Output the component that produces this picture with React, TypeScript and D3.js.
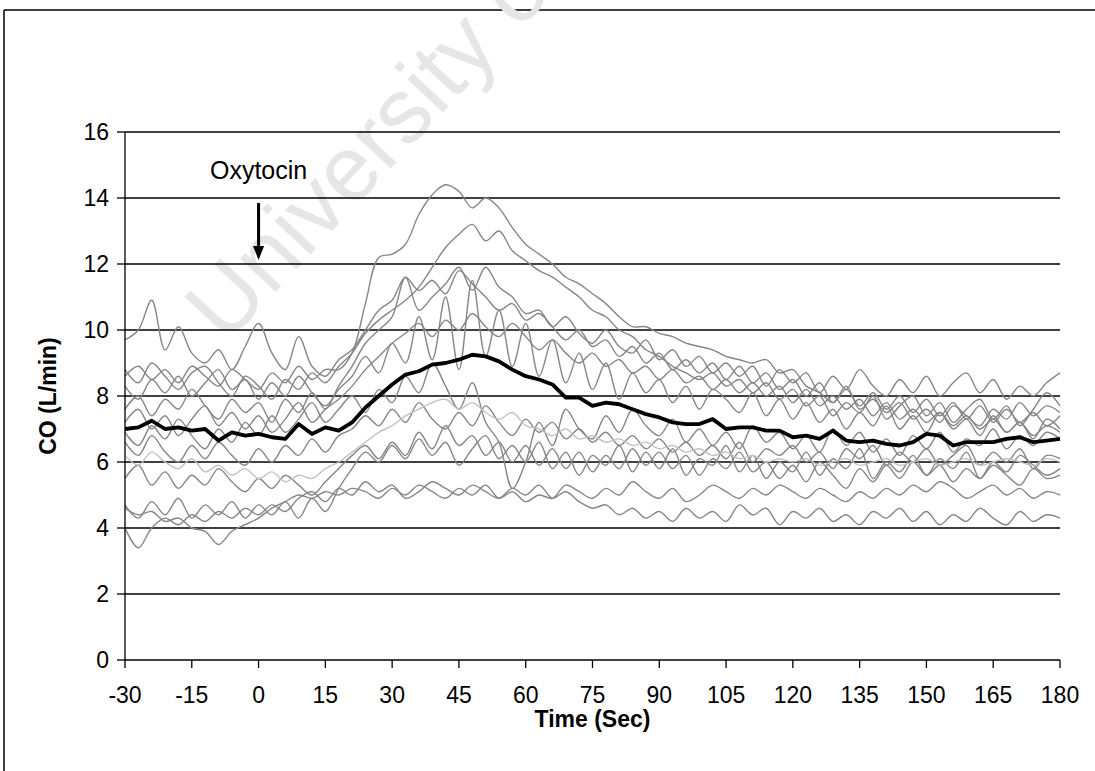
import React from 'react';
import * as d3 from 'd3';

// sample times (seconds), one value every 3 s from -30 to 180
const times: number[] = d3.range(-30, 181, 3);

const xTicks = [-30, -15, 0, 15, 30, 45, 60, 75, 90, 105, 120, 135, 150, 165, 180];
const yTicks = [0, 2, 4, 6, 8, 10, 12, 14, 16];

// individual subjects (grey)
const s1 = [8.6, 8.9, 8.5, 8.8, 8.4, 8.9, 8.6, 8.3, 8.8, 8.5,
  8.2, 8.7, 8.4, 8.9, 8.5, 8.8, 8.8, 9.3, 10.8, 12.2,
  12.3, 12.6, 13.5, 14.1, 14.4, 14.2, 13.7, 14.0, 13.7, 13.1,
  12.6, 12.3, 12.0, 11.6, 11.4, 11.1, 10.8, 10.4, 10.1, 10.1,
  9.9, 9.8, 9.6, 9.5, 9.4, 9.2, 9.1, 9.0, 9.1, 8.7,
  8.8, 8.3, 8.1, 7.8, 8.3, 7.6, 7.9, 7.5, 7.8, 7.3,
  7.6, 7.2, 7.7, 7.4, 7.1, 7.6, 7.3, 7.8, 7.4, 7.7, 7.5];
const s2 = [8.8, 8.4, 9.0, 8.6, 8.2, 8.7, 8.9, 8.4, 8.0, 8.6,
  8.3, 7.9, 8.5, 8.2, 8.7, 8.4, 8.9, 9.3, 9.9, 10.3,
  10.6, 10.9, 11.3, 11.9, 12.5, 12.9, 13.2, 12.7, 13.0, 12.4,
  12.1, 11.8, 11.6, 11.3, 11.0, 10.6, 10.4, 10.0, 9.8, 9.4,
  9.2, 8.9, 8.7, 8.5, 8.7, 8.3, 8.5, 8.1, 8.4, 7.9,
  8.2, 7.7, 8.0, 7.4, 7.8, 7.5, 8.0, 7.3, 7.7, 8.0,
  7.4, 7.8, 7.2, 7.6, 7.9, 7.3, 7.7, 7.1, 7.6, 8.1, 7.7];
const s3 = [7.6, 8.0, 7.4, 7.9, 7.6, 8.2, 7.7, 7.3, 7.9, 7.5,
  7.8, 7.2, 7.9, 7.5, 8.1, 7.6, 8.3, 8.9, 9.6, 10.0,
  10.4, 11.6, 10.6, 11.0, 11.4, 11.9, 11.2, 11.9, 11.3, 11.0,
  10.5, 10.6, 10.1, 10.4, 9.9, 9.6, 10.0, 9.5, 9.3, 9.7,
  9.1, 9.4, 8.9, 9.2, 8.7, 9.0, 8.6, 8.9, 8.3, 8.8,
  8.4, 8.7, 8.1, 8.6, 8.2, 8.8, 8.3, 8.0, 8.5, 8.1,
  8.6, 8.0, 8.4, 8.7, 8.1, 8.5, 7.9, 8.3, 8.0, 8.4, 8.7];
const s4 = [9.7, 10.0, 10.9, 9.4, 10.1, 9.3, 9.0, 9.4, 8.8, 9.5,
  10.2, 9.3, 8.8, 9.8, 8.9, 8.6, 9.1, 9.4, 10.0, 10.6,
  10.9, 11.6, 11.2, 11.5, 11.1, 11.8, 11.4, 11.0, 10.6, 10.8,
  10.3, 10.5, 10.1, 9.7, 10.0, 9.5, 9.7, 9.2, 9.5, 9.0,
  9.3, 8.8, 9.1, 8.7, 9.0, 8.5, 8.9, 8.4, 8.7, 8.2,
  8.5, 8.0, 8.4, 7.8, 8.2, 7.7, 8.1, 7.6, 8.0, 7.5,
  7.9, 7.4, 7.8, 7.3, 7.7, 7.2, 7.6, 7.2, 7.5, 7.1, 7.4];
const s5 = [8.3, 7.9, 8.5, 8.1, 8.6, 8.0, 8.4, 8.8, 8.2, 8.5,
  7.9, 8.4, 8.0, 8.6, 8.1, 7.7, 8.2, 8.6, 9.2, 8.7,
  9.6, 9.0, 10.4, 9.1, 11.0, 8.8, 11.5, 9.2, 10.6, 8.9,
  10.2, 8.6, 9.7, 8.4, 9.3, 8.2, 9.0, 7.9, 8.7, 8.1,
  8.5, 7.8, 8.3, 7.6, 8.2, 7.9, 7.5, 8.1, 7.4, 7.9,
  7.3, 7.8, 7.2, 7.6, 7.0, 7.5, 7.1, 7.7, 7.0, 7.4,
  6.9, 7.5, 7.0, 7.3, 6.8, 7.4, 6.9, 7.2, 6.7, 7.3, 7.0];
const s6 = [7.2, 7.6, 7.0, 7.4, 6.8, 7.3, 7.7, 7.1, 7.5, 7.0,
  7.4, 6.9, 7.3, 7.8, 7.2, 7.6, 7.9, 8.3, 8.8, 9.2,
  9.6, 9.9, 10.2, 9.8, 10.3, 10.0, 10.5, 10.1, 9.8, 10.2,
  9.8, 9.4, 9.7, 9.3, 9.0, 9.3, 8.9, 9.1, 8.7, 8.9,
  8.5, 8.8, 8.4, 8.6, 8.2, 8.5, 8.1, 8.4, 8.0, 8.3,
  7.8, 8.2, 7.7, 8.0, 7.6, 7.9, 7.4, 7.8, 7.3, 7.6,
  7.2, 7.5, 7.1, 7.4, 7.0, 7.3, 6.9, 7.2, 6.8, 7.1, 6.9];
const s7 = [6.9, 6.5, 7.1, 6.7, 7.3, 6.8, 6.4, 7.0, 6.6, 7.2,
  6.8, 7.4, 6.9, 7.3, 7.8, 7.2, 7.6, 8.0, 7.5, 8.2,
  7.8, 8.6, 8.1, 9.0, 8.3, 7.6, 8.4, 7.2, 6.6, 5.2,
  6.0, 7.2, 6.5, 7.6, 7.0, 6.7, 7.4, 6.9, 7.6, 7.1,
  6.8, 7.3, 6.6, 7.0, 6.5, 6.9, 6.4, 7.1, 6.6, 6.9,
  6.4, 6.8, 6.3, 7.0, 6.5, 6.9, 6.3, 6.7, 6.2, 6.8,
  6.4, 6.9, 6.3, 6.7, 6.5, 7.0, 6.4, 6.8, 6.5, 6.9, 6.7];
const s8 = [6.2, 5.9, 6.3, 6.0, 5.8, 6.1, 5.7, 5.9, 5.6, 5.8,
  5.5, 5.7, 5.4, 5.6, 5.5, 5.8, 6.0, 6.3, 6.6, 6.9,
  7.1, 7.4, 7.6, 7.8, 7.9, 7.6, 7.8, 7.5, 7.3, 7.5,
  7.1, 7.0, 6.8, 7.0, 6.7, 6.8, 6.6, 6.7, 6.5, 6.6,
  6.4, 6.5, 6.3, 6.4, 6.2, 6.3, 6.1, 6.2, 6.0, 6.1,
  6.0, 6.1, 5.9, 6.0, 6.1, 5.9, 6.0, 6.1, 5.9, 6.0,
  6.1, 5.9, 6.0, 6.1, 5.9, 6.0, 6.1, 6.0, 5.9, 6.1, 6.0];
const s9 = [6.6, 6.2, 6.8, 6.3, 6.0, 6.5, 6.1, 6.6, 6.2, 5.9,
  6.4, 6.0, 6.5, 6.2, 6.7, 6.3, 6.8, 7.0, 7.4, 7.1,
  7.6, 7.2, 7.8, 7.3, 7.0, 7.5, 7.1, 7.7, 7.2, 6.8,
  7.3, 6.9, 7.2, 6.7, 7.0, 6.6, 6.9, 6.5, 6.8, 6.4,
  6.7, 6.3, 6.6, 6.2, 6.5, 6.1, 6.6, 6.0, 6.4, 6.2,
  6.5, 6.0, 6.3, 5.8, 6.4, 6.1, 6.5, 5.9, 6.3, 6.0,
  6.4, 5.9, 6.2, 6.5, 5.9, 6.3, 6.0, 6.4, 5.8, 6.2, 6.1];
const s10 = [5.5, 5.9, 5.3, 5.7, 5.2, 5.6, 5.3, 5.8, 5.4, 5.1,
  5.5, 5.2, 5.6, 5.3, 5.0, 5.4, 5.8, 6.2, 6.5, 6.1,
  6.6, 6.2, 6.9, 6.4, 7.1, 6.5, 6.8, 6.2, 6.6, 6.0,
  6.5, 5.9, 6.4, 5.8, 6.3, 5.7, 6.2, 5.8, 6.4, 5.9,
  6.3, 5.8, 6.2, 5.6, 6.1, 5.8, 6.3, 5.7, 6.0, 5.5,
  5.9, 5.4, 6.0, 5.6, 5.2, 5.8, 5.4, 5.9, 5.5, 6.0,
  5.6, 5.9, 5.4, 5.8, 5.5, 5.9, 5.6, 5.3, 5.8, 5.5, 5.6];
const s11 = [4.7, 4.3, 4.8, 4.4, 4.9, 4.3, 4.7, 4.4, 4.8, 4.3,
  4.7, 4.4, 4.8, 4.3, 4.9, 4.5, 5.2, 5.8, 6.3, 6.0,
  6.5, 6.1, 6.7, 6.2, 6.6, 5.9, 6.4, 6.8, 6.1, 6.5,
  6.0, 6.6, 5.8, 6.3, 5.6, 6.2, 5.9, 6.5, 5.7, 6.3,
  5.8, 6.4, 5.6, 6.1, 5.9, 6.5, 5.7, 6.2, 5.5, 6.0,
  5.7, 6.3, 5.6, 6.1, 5.8, 6.4, 5.5, 6.0, 5.7, 6.2,
  5.6, 6.1, 5.8, 6.3, 5.5, 6.0, 5.7, 6.2, 5.9, 5.6, 5.8];
const s12 = [4.6, 4.4, 4.5, 4.2, 4.3, 4.0, 3.9, 3.5, 3.9, 4.1,
  4.3, 4.6, 4.8, 5.0, 4.9, 5.1, 5.0, 5.2, 5.1, 4.9,
  5.2, 5.0, 5.3, 5.1, 4.9, 5.2, 5.0, 5.3, 4.9, 5.1,
  4.8, 5.0, 4.9, 5.3, 5.1, 4.9, 5.2, 5.0, 5.4, 5.1,
  4.9, 5.2, 4.8, 5.0, 5.3, 5.1, 4.9, 5.2, 5.0, 5.3,
  5.1, 4.9, 5.2, 5.0, 4.8, 5.1, 4.9, 5.2, 5.0, 5.3,
  5.1, 5.4, 5.2, 4.9, 5.1, 5.3, 5.0, 5.2, 4.9, 5.1, 5.0];
const s13 = [4.0, 3.4, 4.0, 4.3, 4.1, 4.4, 4.2, 4.5, 4.3, 4.6,
  4.4, 4.7, 4.5, 4.9, 5.1, 4.8, 5.2, 5.0, 5.4, 5.1,
  5.3, 4.9, 5.1, 5.4, 5.2, 5.0, 5.3, 5.1, 4.9, 5.2,
  5.0, 5.3, 4.9, 5.1, 4.8, 4.6, 4.7, 4.4, 4.6, 4.3,
  4.5, 4.2, 4.6, 4.3, 4.5, 4.2, 4.7, 4.4, 4.6, 4.1,
  4.5, 4.3, 4.6, 4.2, 4.4, 4.1, 4.5, 4.3, 4.6, 4.2,
  4.5, 4.1, 4.4, 4.2, 4.6, 4.3, 4.1, 4.5, 4.2, 4.4, 4.3];

const greySeries = [s1, s2, s3, s4, s5, s6, s7, s9, s10, s11, s12, s13];
const lightSeries = [s8];

// group mean (black)
const meanCO = [7.0, 7.05, 7.25, 7.0, 7.05, 6.95, 7.0, 6.65, 6.9, 6.8,
  6.85, 6.75, 6.7, 7.15, 6.85, 7.05, 6.95, 7.2, 7.65, 8.0,
  8.35, 8.65, 8.75, 8.95, 9.0, 9.1, 9.25, 9.2, 9.05, 8.8,
  8.6, 8.5, 8.35, 7.95, 7.95, 7.7, 7.8, 7.75, 7.6, 7.45,
  7.35, 7.2, 7.15, 7.15, 7.3, 7.0, 7.05, 7.05, 6.95, 6.95,
  6.75, 6.8, 6.7, 6.95, 6.65, 6.6, 6.65, 6.55, 6.5, 6.6,
  6.85, 6.8, 6.5, 6.6, 6.6, 6.6, 6.7, 6.75, 6.6, 6.65, 6.7];

const W = 1095;
const H = 771;
const FONT = "'Liberation Sans', Arial, sans-serif";

export default function App() {
  const x = d3.scaleLinear().domain([-30, 180]).range([125, 1060]);
  const y = d3.scaleLinear().domain([0, 16]).range([660, 132]);

  const greyLine = d3
    .line<number>()
    .x((_, i) => x(times[i]))
    .y((d) => y(d))
    .curve(d3.curveCatmullRom.alpha(0.5));
  const meanLine = d3
    .line<number>()
    .x((_, i) => x(times[i]))
    .y((d) => y(d));

  const x0 = x(-30);
  const x1 = x(180);
  const arrowX = x(0);

  return (
    <svg
      width={W}
      height={H}
      style={{ position: 'absolute', left: 0, top: 0, background: '#fff' }}
      fontFamily={FONT}
    >
      <rect x={0} y={0} width={W} height={H} fill="#fff" />
      {/* outer frame (top and left edges visible) */}
      <line x1={4} y1={10} x2={W} y2={10} stroke="#000" strokeWidth={1.5} />
      <line x1={4} y1={10} x2={4} y2={H} stroke="#000" strokeWidth={1.5} />

      {/* watermark */}
      <text
        transform={`translate(226,345) rotate(-47)`}
        fontSize={92}
        fill="#e6e6e6"
        fontFamily={FONT}
      >
        University of
      </text>

      {/* gridlines */}
      {yTicks.filter((t) => t > 0).map((t) => (
        <line key={'g' + t} x1={x0} x2={x1} y1={y(t)} y2={y(t)} stroke="#000" strokeWidth={1.3} />
      ))}

      {/* individual lines */}
      {greySeries.map((s, k) => (
        <path key={'s' + k} d={greyLine(s) || ''} fill="none" stroke="#868686" strokeWidth={1.4} />
      ))}
      {lightSeries.map((s, k) => (
        <path key={'l' + k} d={greyLine(s) || ''} fill="none" stroke="#c2c2c2" strokeWidth={1.4} />
      ))}

      {/* mean */}
      <path d={meanLine(meanCO) || ''} fill="none" stroke="#000" strokeWidth={3.8} strokeLinejoin="round" />

      {/* axes */}
      <line x1={x0} x2={x0} y1={y(16)} y2={y(0)} stroke="#000" strokeWidth={1.3} />
      <line x1={x0} x2={x1} y1={y(0)} y2={y(0)} stroke="#000" strokeWidth={1.6} />
      {yTicks.map((t) => (
        <g key={'yt' + t}>
          <line x1={x0 - 8} x2={x0} y1={y(t)} y2={y(t)} stroke="#000" strokeWidth={1.3} />
          <text x={x0 - 16} y={y(t)} dy="0.36em" textAnchor="end" fontSize={23} fill="#000">
            {t}
          </text>
        </g>
      ))}
      {xTicks.map((t) => (
        <g key={'xt' + t}>
          <line x1={x(t)} x2={x(t)} y1={y(0)} y2={y(0) + 8} stroke="#000" strokeWidth={1.3} />
          <text x={x(t)} y={y(0) + 43} textAnchor="middle" fontSize={23} fill="#000">
            {t}
          </text>
        </g>
      ))}

      {/* axis titles */}
      <text x={(x0 + x1) / 2} y={727} textAnchor="middle" fontSize={23} fontWeight="bold" fill="#000">
        Time (Sec)
      </text>
      <text
        transform={`translate(56,${(y(0) + y(16)) / 2}) rotate(-90)`}
        textAnchor="middle"
        fontSize={23}
        fontWeight="bold"
        fill="#000"
      >
        CO (L/min)
      </text>

      {/* annotation */}
      <text x={arrowX} y={179} textAnchor="middle" fontSize={25} fill="#000">
        Oxytocin
      </text>
      <line x1={arrowX} x2={arrowX} y1={203} y2={248} stroke="#000" strokeWidth={3} />
      <path d={`M${arrowX - 5.5},246 L${arrowX + 5.5},246 L${arrowX},260 Z`} fill="#000" />
    </svg>
  );
}
